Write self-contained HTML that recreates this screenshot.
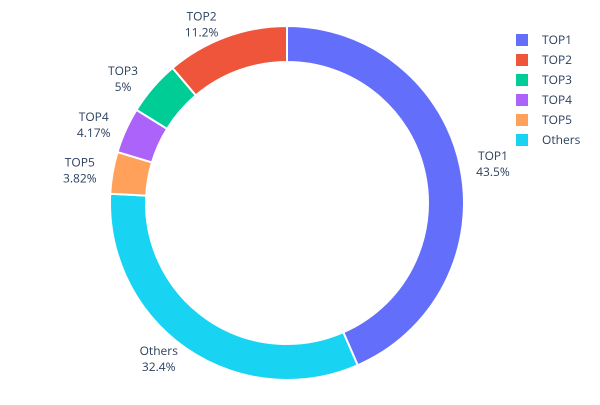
<!DOCTYPE html>
<html><head><meta charset="utf-8"><style>
body{margin:0;background:#fff;font-family:"Open Sans","Liberation Sans",sans-serif;}
</style></head><body>
<svg id="chart" width="600" height="400" xmlns="http://www.w3.org/2000/svg">
<rect width="600" height="400" fill="#fff"/>
<g id="slices"></g>
<g id="labels"></g>
<g id="legend"></g>
</svg>
<script>
const categories = ["TOP1","Others","TOP5","TOP4","TOP3","TOP2"];
const values = [43.5,32.4,3.82,4.17,5,11.2];
const legendOrder = ["TOP1","TOP2","TOP3","TOP4","TOP5","Others"];
const colors = {TOP1:"#636efa",TOP2:"#EF553B",TOP3:"#00cc96",TOP4:"#ab63fa",TOP5:"#FFA15A",Others:"#19d3f3"};
const cx=287, cy=203, R=177, r=141;
const NS="http://www.w3.org/2000/svg";
const total=values.reduce((a,b)=>a+b,0);
function pt(rad,ang){return [cx+rad*Math.sin(ang), cy-rad*Math.cos(ang)];}
let acc=0;
const sl=document.getElementById('slices'), lb=document.getElementById('labels');
categories.forEach((c,i)=>{
  const a0=acc/total*2*Math.PI; acc+=values[i]; const a1=acc/total*2*Math.PI;
  const large=(a1-a0)>Math.PI?1:0;
  const [x0,y0]=pt(R,a0),[x1,y1]=pt(R,a1),[x2,y2]=pt(r,a1),[x3,y3]=pt(r,a0);
  const p=document.createElementNS(NS,'path');
  p.setAttribute('d',`M${x0},${y0}A${R},${R} 0 ${large} 1 ${x1},${y1}L${x2},${y2}A${r},${r} 0 ${large} 0 ${x3},${y3}Z`);
  p.setAttribute('fill',colors[c]); p.setAttribute('stroke','#fff'); p.setAttribute('stroke-width','2');
  
  
  sl.appendChild(p);
  const am=(a0+a1)/2; const [lx,ly]=pt(190,am);
  const t=document.createElementNS(NS,'text');
  const right=lx>cx;
  t.setAttribute('x',lx); t.setAttribute('y',ly-4);
  t.setAttribute('text-anchor',right?'start':'end');
  t.setAttribute('font-size','12'); t.setAttribute('fill','#2a3f5f');
  
  
  const s1=document.createElementNS(NS,'tspan'); s1.setAttribute('x',lx); s1.setAttribute('text-anchor','middle'); s1.setAttribute('dx', right?'20':'-20'); s1.textContent=c;
  const s2=document.createElementNS(NS,'tspan'); s2.setAttribute('x',lx); s2.setAttribute('dy','16'); s2.setAttribute('text-anchor','middle'); s2.setAttribute('dx', right?'20':'-20'); s2.textContent=values[i]+'%';
  t.appendChild(s1); t.appendChild(s2); lb.appendChild(t);
});
const lg=document.getElementById('legend');
legendOrder.forEach((c,i)=>{
  const y=40+i*20;
  const g=document.createElementNS(NS,'g');
  
  
  const rc=document.createElementNS(NS,'rect');
  rc.setAttribute('x',516); rc.setAttribute('y',y-6); rc.setAttribute('width',12); rc.setAttribute('height',12); rc.setAttribute('fill',colors[c]);
  const t=document.createElementNS(NS,'text');
  t.setAttribute('x',542); t.setAttribute('y',y+4); t.setAttribute('font-size','12'); t.setAttribute('fill','#2a3f5f'); t.textContent=c;
  g.appendChild(rc); g.appendChild(t); lg.appendChild(g);
});
</script>
</body></html>
